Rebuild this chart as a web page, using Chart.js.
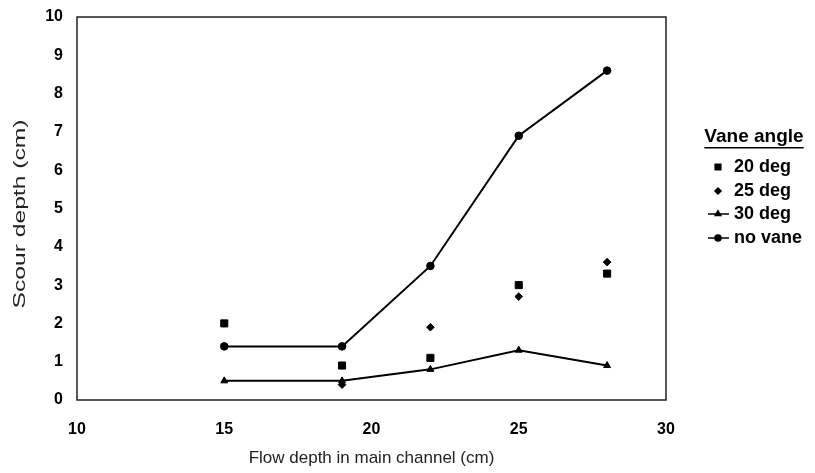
<!DOCTYPE html>
<html>
<head>
<meta charset="utf-8">
<script src="https://cdn.jsdelivr.net/npm/chart.js@4/dist/chart.umd.min.js"></script>
<style>
  html, body { margin: 0; padding: 0; background: #fff; }
  #wrap { width: 815px; height: 473px; position: relative; }
</style>
</head>
<body>
<div id="wrap"><canvas id="chart"></canvas></div>
<script>
const flowDepth = [15, 19, 22, 25, 28];
const deg20 = [2.0, 0.9, 1.1, 3.0, 3.3];
const deg25 = [null, 0.4, 1.9, 2.7, 3.6];
const deg30 = [0.5, 0.5, 0.8, 1.3, 0.9];
const noVane = [1.4, 1.4, 3.5, 6.9, 8.6];
const xTicks = [10, 15, 20, 25, 30];
const yTicks = [0, 1, 2, 3, 4, 5, 6, 7, 8, 9, 10];

const FONT = '"Liberation Sans", Arial, sans-serif';

function points(values) {
    return flowDepth.map((x, i) => ({ x, y: values[i] })).filter(p => p.y !== null);
}

function series(label, values, style, radius, line) {
    return {
        label,
        data: points(values),
        showLine: line,
        borderColor: '#000',
        backgroundColor: '#000',
        borderWidth: 2,
        pointStyle: style,
        pointRadius: radius,
        pointBorderWidth: 1,
        pointBorderColor: '#000',
        pointBackgroundColor: '#000',
        tension: 0,
    };
}

// plot frame, stretched y title and the hand-laid legend on the right
const framePlugin = {
    id: 'frame',
    afterDraw(chart) {
        const { ctx, chartArea: a } = chart;
        ctx.save();
        ctx.strokeStyle = '#222';
        ctx.lineWidth = 1.5;
        ctx.strokeRect(a.left, a.top, a.right - a.left, a.bottom - a.top);

        // y title: the scan has it drawn long and narrow
        ctx.save();
        ctx.translate(20, 214);
        ctx.rotate(-Math.PI / 2);
        ctx.scale(1.45, 1);
        ctx.fillStyle = '#222';
        ctx.font = `17px ${FONT}`;
        ctx.textAlign = 'center';
        ctx.textBaseline = 'middle';
        ctx.fillText('Scour depth (cm)', 0, 0);
        ctx.restore();

        ctx.fillStyle = '#000';
        ctx.font = `bold 19px ${FONT}`;
        ctx.textBaseline = 'middle';
        ctx.textAlign = 'center';
        const tx = 754, ty = 137;
        ctx.fillText('Vane angle', tx, ty);
        const w = ctx.measureText('Vane angle').width;
        ctx.fillRect(tx - w / 2, ty + 10, w, 1.5);

        ctx.font = `bold 18px ${FONT}`;
        ctx.textAlign = 'left';
        const rows = [167, 191, 214, 238];
        chart.data.datasets.forEach((ds, i) => {
            const y = rows[i];
            ctx.strokeStyle = '#000';
            ctx.fillStyle = '#000';
            if (ds.showLine) {
                ctx.lineWidth = 1.5;
                ctx.beginPath();
                ctx.moveTo(708, y);
                ctx.lineTo(729, y);
                ctx.stroke();
            }
            Chart.helpers.drawPoint(ctx, {
                pointStyle: ds.pointStyle,
                radius: ds.pointRadius * 0.8,
                borderWidth: 1,
            }, 718, y);
            ctx.fillStyle = '#000';
            ctx.fillText(ds.label, 734, y);
        });
        ctx.restore();
    },
};

new Chart(document.getElementById('chart'), {
    type: 'scatter',
    data: {
        datasets: [
            series('20 deg', deg20, 'rect', 5, false),
            series('25 deg', deg25, 'rectRot', 3.8, false),
            series('30 deg', deg30, 'triangle', 4, true),
            series('no vane', noVane, 'circle', 3.8, true),
        ],
    },
    options: {
        responsive: true,
        maintainAspectRatio: false,
        animation: false,
        layout: { padding: { top: 17, right: 149, left: 0, bottom: 0 } },
        plugins: {
            legend: { display: false },
            tooltip: { enabled: false },
        },
        scales: {
            x: {
                type: 'linear',
                min: 10,
                max: 30,
                afterBuildTicks(scale) {
                    scale.ticks = xTicks.map(v => ({ value: v }));
                },
                afterFit(scale) { scale.height = 73; },
                grid: { display: false },
                border: { display: false },
                ticks: {
                    color: '#000',
                    padding: 12,
                    font: { family: FONT, size: 16, weight: 'bold' },
                },
                title: {
                    display: true,
                    text: 'Flow depth in main channel (cm)',
                    color: '#222',
                    padding: { top: 0, bottom: 4 },
                    font: { family: FONT, size: 17 },
                },
            },
            y: {
                type: 'linear',
                min: 0,
                max: 10,
                afterBuildTicks(scale) {
                    scale.ticks = yTicks.map(v => ({ value: v }));
                },
                afterFit(scale) { scale.width = 77; },
                grid: { display: false },
                border: { display: false },
                ticks: {
                    color: '#000',
                    padding: 6,
                    font: { family: FONT, size: 16, weight: 'bold' },
                },
            },
        },
    },
    plugins: [framePlugin],
});
</script>
</body>
</html>
